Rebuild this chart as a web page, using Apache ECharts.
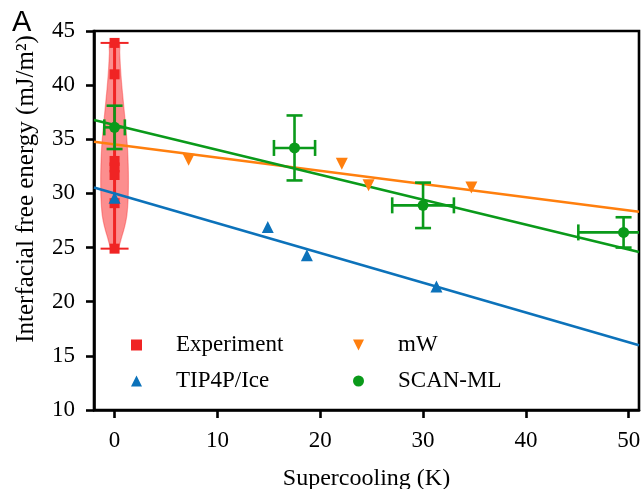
<!DOCTYPE html>
<html>
<head>
<meta charset="utf-8">
<script src="https://cdn.jsdelivr.net/npm/echarts@6/dist/echarts.min.js"></script>
<style>html,body{margin:0;padding:0;background:#fff;}#c{width:642px;height:489px;}</style>
</head>
<body>
<div id="c"></div>
<script>
// ---- data ----
const xTicks = [0, 10, 20, 30, 40, 50];
const yTicks = [10, 15, 20, 25, 30, 35, 40, 45];

const expX = [0, 0, 0, 0, 0, 0, 0];
const expY = [43.9, 41.0, 33.0, 32.4, 31.7, 29.1, 24.9];
const expRange = [24.9, 43.9];

const violinY = [43.9, 43.0, 41.5, 40.0, 38.5, 37.0, 35.5, 34.0, 32.5, 31.0, 29.5, 28.0, 27.0, 26.0, 24.9];
const violinW = [0.45, 0.5, 0.58, 0.7, 0.85, 1.0, 1.15, 1.27, 1.33, 1.35, 1.32, 1.2, 1.0, 0.7, 0.3];

const tipX = [0, 14.9, 18.7, 31.3];
const tipY = [29.6, 26.9, 24.3, 21.4];
const tipFitX = [-2, 51];
const tipFitY = [30.55, 15.98];

const mwX = [7.2, 22.1, 24.7, 34.7];
const mwY = [33.1, 32.75, 30.75, 30.55];
const mwFitX = [-2, 51];
const mwFitY = [34.77, 28.31];

const scanX = [0, 17.5, 30.0, 49.5];
const scanY = [36.1, 34.2, 28.9, 26.4];
const scanXErr = [1.0, 2.0, 3.0, 4.4];
const scanYErr = [2.0, 3.0, 2.1, 1.4];
const scanFitX = [-2, 51];
const scanFitY = [36.79, 24.6];

// ---- styles ----
const RED = '#f02424', BLUE = '#0c72ba', ORANGE = '#ff7f0e', GREEN = '#0a9a1a';
const SERIF = 'Liberation Serif';
const zip = (a, b) => a.map((v, i) => [v, b[i]]);

const chart = echarts.init(document.getElementById('c'), null, {renderer: 'canvas'});

function errRender(params, api) {
  const x = api.value(0), y = api.value(1), xe = api.value(2), ye = api.value(3);
  const l = api.coord([x - xe, y]), r = api.coord([x + xe, y]);
  const t = api.coord([x, y + ye]), b = api.coord([x, y - ye]);
  const cap = 8;
  const st = {stroke: GREEN, lineWidth: 2.6};
  const L = (x1, y1, x2, y2) => ({type: 'line', shape: {x1, y1, x2, y2}, style: st});
  return {type: 'group', children: [
    L(l[0], l[1], r[0], r[1]), L(t[0], t[1], b[0], b[1]),
    L(l[0], l[1] - cap, l[0], l[1] + cap), L(r[0], r[1] - cap, r[0], r[1] + cap),
    L(t[0] - cap, t[1], t[0] + cap, t[1]), L(b[0] - cap, b[1], b[0] + cap, b[1])
  ]};
}

const option = {
  animation: false,
  backgroundColor: '#fff',
  grid: {left: 94, right: 3, top: 31, bottom: 79, show: true, borderColor: '#000', borderWidth: 2.6,
         containLabel: false, outerBoundsMode: 'none'},
  xAxis: {
    type: 'value', min: -2, max: 51,
    name: 'Supercooling (K)', nameLocation: 'middle', nameGap: 57,
    nameTextStyle: {fontFamily: SERIF, fontSize: 24, color: '#000'},
    axisLine: {show: true, onZero: false, lineStyle: {color: '#000', width: 2.6}},
    axisTick: {show: true, length: 8, lineStyle: {color: '#000', width: 2.6}, customValues: xTicks},
    axisLabel: {fontFamily: SERIF, fontSize: 23, color: '#000', margin: 19, customValues: xTicks},
    splitLine: {show: false}
  },
  yAxis: {
    type: 'value', min: 10, max: 45, interval: 5,
    axisLine: {show: true, onZero: false, lineStyle: {color: '#000', width: 2.6}},
    axisTick: {show: true, length: 8, lineStyle: {color: '#000', width: 2.6}},
    axisLabel: {fontFamily: SERIF, fontSize: 23, color: '#000', margin: 19},
    splitLine: {show: false}
  },
  legend: [
    {left: 131, top: 333, orient: 'vertical', padding: 0, itemGap: 12, itemWidth: 11, itemHeight: 11,
     textStyle: {fontFamily: SERIF, fontSize: 23, color: '#000', padding: [0, 0, 0, 29], lineHeight: 24},
     data: [{name: 'Experiment', icon: 'rect'}, {name: 'TIP4P/Ice', icon: 'triangle'}]},
    {left: 353, top: 333, orient: 'vertical', padding: 0, itemGap: 12, itemWidth: 11, itemHeight: 11,
     textStyle: {fontFamily: SERIF, fontSize: 23, color: '#000', padding: [0, 0, 0, 29], lineHeight: 24},
     data: [{name: 'mW', icon: 'path://M0,0 L10,0 L5,10 Z'}, {name: 'SCAN-ML', icon: 'circle'}]}
  ],
  graphic: [
    {type: 'text', left: 12, top: 8, style: {text: 'A', font: '29px "Liberation Sans"', fill: '#000'}},
    {type: 'text', x: 26, y: 189, rotation: Math.PI / 2,
     style: {text: 'Interfacial free energy (mJ/m²)', font: '25px "Liberation Serif"', fill: '#000', align: 'center', verticalAlign: 'middle'}}
  ],
  series: [
    {name: 'violin', type: 'custom', clip: true, silent: true, z: 1,
     data: [[0, 35]],
     renderItem: function (params, api) {
       const pts = [];
       for (let i = 0; i < violinY.length; i++) pts.push(api.coord([expX[0] - violinW[i], violinY[i]]));
       for (let i = violinY.length - 1; i >= 0; i--) pts.push(api.coord([expX[0] + violinW[i], violinY[i]]));
       return {type: 'polygon', shape: {points: pts, smooth: 0.3},
               style: {fill: 'rgba(250,30,30,0.5)', stroke: 'rgba(250,30,30,0.35)', lineWidth: 1.2}};
     }},
    {name: 'range', type: 'custom', clip: true, silent: true, z: 2,
     data: [[expX[0], expRange[0], expRange[1]]],
     renderItem: function (params, api) {
       const b = api.coord([api.value(0), api.value(1)]);
       const t = api.coord([api.value(0), api.value(2)]);
       const cap = 14;
       const st = {stroke: RED, lineWidth: 3};
       return {type: 'group', children: [
         {type: 'line', shape: {x1: b[0], y1: b[1], x2: t[0], y2: t[1]}, style: st},
         {type: 'line', shape: {x1: b[0] - cap, y1: b[1], x2: b[0] + cap, y2: b[1]}, style: {stroke: RED, lineWidth: 2}},
         {type: 'line', shape: {x1: t[0] - cap, y1: t[1], x2: t[0] + cap, y2: t[1]}, style: {stroke: RED, lineWidth: 2}}
       ]};
     }},
    {name: 'TIP4P fit', type: 'line', data: zip(tipFitX, tipFitY), symbol: 'none', clip: true, z: 3,
     lineStyle: {color: BLUE, width: 2.6}},
    {name: 'mW fit', type: 'line', data: zip(mwFitX, mwFitY), symbol: 'none', clip: true, z: 3,
     lineStyle: {color: ORANGE, width: 2.6}},
    {name: 'SCAN fit', type: 'line', data: zip(scanFitX, scanFitY), symbol: 'none', clip: true, z: 3,
     lineStyle: {color: GREEN, width: 2.6}},
    {name: 'Experiment', type: 'scatter', data: zip(expX, expY), symbol: 'rect', symbolSize: 10, z: 4,
     itemStyle: {color: RED, opacity: 1}},
    {name: 'TIP4P/Ice', type: 'scatter', data: zip(tipX, tipY), symbol: 'triangle', symbolSize: 12, z: 5,
     itemStyle: {color: BLUE, opacity: 1}},
    {name: 'mW', type: 'scatter', data: zip(mwX, mwY), symbol: 'triangle', symbolRotate: 180, symbolSize: 12, z: 5,
     itemStyle: {color: ORANGE, opacity: 1}},
    {name: 'SCAN err', type: 'custom', clip: true, silent: true, z: 6,
     encode: {x: 0, y: 1},
     data: scanX.map((x, i) => [x, scanY[i], scanXErr[i], scanYErr[i]]),
     renderItem: errRender},
    {name: 'SCAN-ML', type: 'scatter', data: zip(scanX, scanY), symbol: 'circle', symbolSize: 11, z: 7,
     itemStyle: {color: GREEN, opacity: 1}}
  ]
};
chart.setOption(option);
</script>
</body>
</html>
